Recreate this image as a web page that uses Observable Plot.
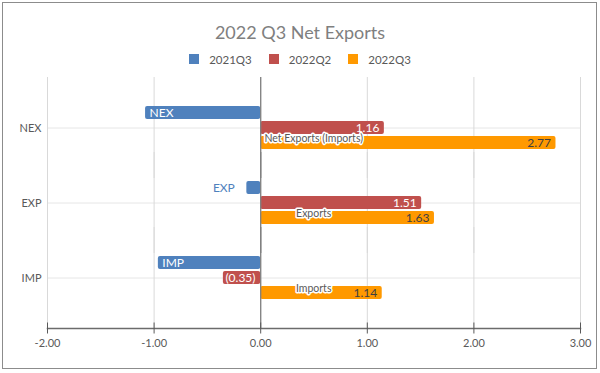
<!DOCTYPE html>
<html>
<head>
<meta charset="utf-8">
<script src="https://cdn.jsdelivr.net/npm/d3@7"></script>
<script src="https://cdn.jsdelivr.net/npm/@observablehq/plot@0.6"></script>
<style>
  body { margin: 0; background: #fff; font-family: Lato, "Open Sans", sans-serif; }
  #wrap { position: relative; width: 600px; height: 373px; overflow: hidden; }
  #border { position: absolute; left: 2px; top: 2px; width: 595px; height: 367px; border: 1px solid #8c8c8c; box-sizing: border-box; pointer-events: none; }
  #title { padding-top: 20px; height: 24px; line-height: 24px; text-align: center; font-size: 18px; color: #7f7f7f; }
  #legend { margin-top: 6px; height: 18px; display: flex; justify-content: center; align-items: center; gap: 17px; font-size: 11.5px; color: #595959; }
  #legend .item { display: flex; align-items: center; }
  #legend .sw { width: 10px; height: 10px; margin-right: 10px; }
  #chart svg { display: block; margin-top: 2px; }
</style>
</head>
<body>
<div id="wrap">
  <div id="title"></div>
  <div id="legend"></div>
  <div id="chart"></div>
  <div id="border"></div>
</div>
<script>
const title = "2022 Q3 Net Exports";
const categories = ["NEX", "EXP", "IMP"];
const descriptions = ["Net Exports (Imports)", "Exports", "Imports"];
const series = ["2021Q3", "2022Q2", "2022Q3"];
const values2021Q3 = [-1.08, -0.13, -0.96];
const values2022Q2 = [1.16, 1.51, -0.35];
const values2022Q3 = [2.77, 1.63, 1.14];
const colors = ["#4F81BD", "#C0504D", "#FF9900"];
const xTicks = [-2, -1, 0, 1, 2, 3];

const seriesValues = [values2021Q3, values2022Q2, values2022Q3];
const data = categories.flatMap((c, i) => series.map((s, j) => ({
  cat: c, series: s, value: seriesValues[j][i], desc: descriptions[i]
})));
const fmt = v => v < 0 ? `(${(-v).toFixed(2)})` : v.toFixed(2);

document.getElementById("title").textContent = title;
const legend = document.getElementById("legend");
series.forEach((s, i) => {
  const it = document.createElement("div");
  it.className = "item";
  const sw = document.createElement("div");
  sw.className = "sw";
  sw.style.background = colors[i];
  const t = document.createElement("span");
  t.textContent = s;
  it.appendChild(sw); it.appendChild(t);
  legend.appendChild(it);
});

const s0 = data.filter(d => d.series === series[0]);
const s1 = data.filter(d => d.series === series[1]);
const s2 = data.filter(d => d.series === series[2]);

const chart = Plot.plot({
  width: 600,
  height: 303,
  marginLeft: 47,
  marginRight: 20,
  marginTop: 7,
  marginBottom: 45,
  style: { fontFamily: "Lato, sans-serif", fontSize: "11px", color: "#595959", background: "transparent" },
  x: { domain: [-2, 3], axis: null },
  y: { domain: series, paddingInner: 0.13, paddingOuter: 0.985, axis: null },
  fy: { domain: categories, paddingInner: 0, paddingOuter: 0.1733, axis: "left", label: null, tickSize: 0, tickPadding: 6 },
  color: { domain: series, range: colors },
  marks: [
    Plot.gridFy({ stroke: "#e6e6e6", strokeOpacity: 1 }),
    Plot.ruleX(xTicks, { stroke: "#d9d9d9", strokeOpacity: 1, insetTop: -13, insetBottom: -13 }),
    Plot.barX(data, { x: "value", y: "series", fy: "cat", fill: "series", rx: 2 }),
    Plot.ruleX([0], { stroke: "#808080", strokeWidth: 1.3, insetTop: -13, insetBottom: -13 }),
    // 2021Q3 labels (category names)
    Plot.text(s0.filter(d => Math.abs(d.value) >= 0.5), { x: "value", y: "series", fy: "cat", text: "cat", textAnchor: "start", dx: 4, fill: "white", fontSize: 12 }),
    Plot.text(s0.filter(d => Math.abs(d.value) < 0.5), { x: "value", y: "series", fy: "cat", text: "cat", textAnchor: "end", dx: -12, fill: colors[0], fontSize: 12 }),
    // 2022Q2 labels
    Plot.text(s1.filter(d => d.value >= 0), { x: "value", y: "series", fy: "cat", text: d => fmt(d.value), textAnchor: "end", dx: -5, fill: "white", fontSize: 12 }),
    Plot.text(s1.filter(d => d.value < 0), { x: "value", y: "series", fy: "cat", text: d => fmt(d.value), textAnchor: "start", dx: 2, fill: "white", fontSize: 12 }),
    // 2022Q3 labels
    Plot.text(s2, { x: "value", y: "series", fy: "cat", text: d => fmt(d.value), textAnchor: "end", dx: -5, fill: "#404040", fontSize: 12 }),
    // descriptions
    Plot.text(s2, { x: d => 0, y: "series", fy: "cat", text: "desc", textAnchor: "middle", dx: 53, dy: -4, fill: "#595959", stroke: "white", strokeWidth: 3, paintOrder: "stroke", fontSize: 10.5 }),
    // x axis
    Plot.frame({ anchor: "bottom", facetAnchor: "bottom", dy: 13, stroke: "#6b6b6b", strokeWidth: 1.5 }),
    Plot.axisX(xTicks, { tickSize: 11, dy: 7.5, tickPadding: 5, tickFormat: d => d.toFixed(2), label: null, stroke: "#595959", fill: "#595959", fontSize: 11 })
  ]
});
document.getElementById("chart").appendChild(chart);
</script>
</body>
</html>
